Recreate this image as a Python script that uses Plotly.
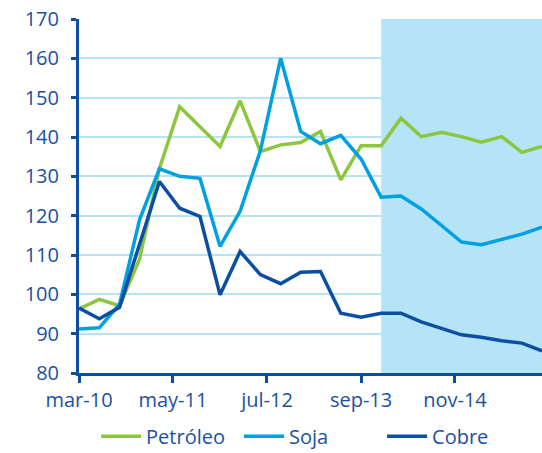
import plotly.graph_objects as go

# Quarterly dates (mar-10 .. dec-15)
fechas = ["2010-03-01", "2010-06-01", "2010-09-01", "2010-12-01",
          "2011-03-01", "2011-06-01", "2011-09-01", "2011-12-01",
          "2012-03-01", "2012-06-01", "2012-09-01", "2012-12-01",
          "2013-03-01", "2013-06-01", "2013-09-01", "2013-12-01",
          "2014-03-01", "2014-06-01", "2014-09-01", "2014-12-01",
          "2015-03-01", "2015-06-01", "2015-09-01", "2015-12-01"]

petroleo = [96.3, 98.7, 97.1, 109.0, 132.0, 147.7, 142.6, 137.6,
            149.2, 136.3, 138.0, 138.6, 141.4, 129.1, 137.8, 137.8,
            144.8, 140.1, 141.2, 140.1, 138.7, 140.1, 136.1, 137.6]

soja = [91.2, 91.5, 97.5, 119.0, 131.9, 130.0, 129.5, 112.2,
        121.1, 136.5, 160.0, 141.4, 138.3, 140.4, 134.4, 124.7,
        125.0, 121.7, 117.5, 113.3, 112.6, 114.0, 115.3, 117.1]

cobre = [96.5, 93.8, 96.7, 112.8, 128.7, 121.9, 119.8, 99.9,
         110.9, 105.0, 102.7, 105.6, 105.8, 95.2, 94.2, 95.2,
         95.2, 93.0, 91.3, 89.7, 89.1, 88.2, 87.6, 85.6]

tick_fechas = ["2010-03-01", "2011-05-01", "2012-07-01", "2013-09-01", "2014-11-01"]
tick_textos = ["mar-10", "may-11", "jul-12", "sep-13", "nov-14"]

y_ticks = [80, 90, 100, 110, 120, 130, 140, 150, 160, 170]

inicio_prevision = "2013-12-01"

AZUL_OSC = "#0B4EA2"
TEXTO = "#1A51A0"
FONT = "Open Sans"
FS = 20

fig = go.Figure()
fig.add_trace(go.Scatter(x=fechas, y=petroleo, name="Petróleo", mode="lines",
                         line=dict(color="#8CC63F", width=3.5)))
fig.add_trace(go.Scatter(x=fechas, y=soja, name="Soja", mode="lines",
                         line=dict(color="#00A0E3", width=3.5)))
fig.add_trace(go.Scatter(x=fechas, y=cobre, name="Cobre", mode="lines",
                         line=dict(color=AZUL_OSC, width=3.5)))

fig.add_shape(type="rect", xref="x", yref="y", x0=inicio_prevision, x1=fechas[-1],
              y0=80, y1=170, fillcolor="#B5E4F7", line=dict(width=0), layer="between")

fig.update_layout(
    width=542, height=453,
    margin=dict(l=79, r=0, t=19, b=80),
    paper_bgcolor="white", plot_bgcolor="white",
    font=dict(family=FONT, size=FS, color=TEXTO),
    showlegend=True,
    legend=dict(orientation="h", xref="container", yref="container",
                x=0.573, xanchor="center", y=0.037, yanchor="middle",
                font=dict(family=FONT, size=FS, color=TEXTO),
                itemwidth=40, tracegroupgap=0, entrywidth=88, entrywidthmode="pixels"),
    xaxis=dict(type="date", range=[fechas[0], fechas[-1]],
               tickmode="array", tickvals=tick_fechas, ticktext=tick_textos,
               showgrid=False, showline=True, linecolor=AZUL_OSC, linewidth=3,
               ticks="outside", ticklen=7, tickwidth=3, tickcolor=AZUL_OSC,
               tickfont=dict(family=FONT, size=FS, color=TEXTO)),
    yaxis=dict(range=[80, 170], tickmode="array", tickvals=y_ticks,
               showgrid=True, gridcolor="#B9E3F5", gridwidth=2,
               showline=True, linecolor=AZUL_OSC, linewidth=3,
               ticks="outside", ticklen=5, tickwidth=3, tickcolor=AZUL_OSC,
               ticklabelstandoff=8,
               tickfont=dict(family=FONT, size=FS, color=TEXTO), zeroline=False),
)

fig.write_html("out.html", config={"displayModeBar": False},
               post_script="document.body.style.margin='0';")
